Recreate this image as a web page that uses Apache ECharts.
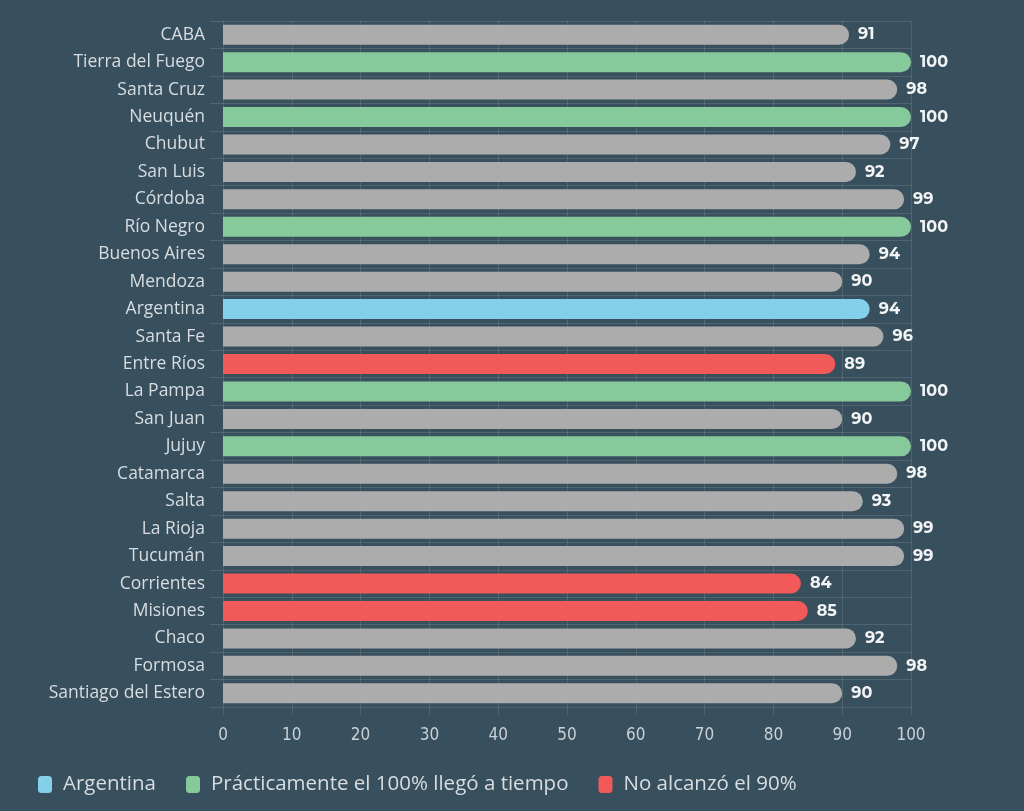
<!DOCTYPE html>
<html>
<head>
<meta charset="utf-8">
<script src="https://cdn.jsdelivr.net/npm/echarts@6/dist/echarts.min.js"></script>
<style>
  html, body { margin: 0; padding: 0; background: #384f5d; }
  #chart { width: 1024px; height: 811px; }
</style>
</head>
<body>
<div id="chart"></div>
<script>
var provincias = ['CABA', 'Tierra del Fuego', 'Santa Cruz', 'Neuquén', 'Chubut', 'San Luis', 'Córdoba',
  'Río Negro', 'Buenos Aires', 'Mendoza', 'Argentina', 'Santa Fe', 'Entre Ríos', 'La Pampa', 'San Juan',
  'Jujuy', 'Catamarca', 'Salta', 'La Rioja', 'Tucumán', 'Corrientes', 'Misiones', 'Chaco', 'Formosa',
  'Santiago del Estero'];
var valores = [91, 100, 98, 100, 97, 92, 99, 100, 94, 90, 94, 96, 89, 100, 90, 100, 98, 93, 99, 99, 84, 85, 92, 98, 90];
// grupo de cada provincia: 0 = resto, 1 = Argentina, 2 = 100%, 3 = no alcanzó el 90%
var grupos = [0, 2, 0, 2, 0, 0, 0, 2, 0, 0, 1, 0, 3, 2, 0, 2, 0, 0, 0, 0, 3, 3, 0, 0, 0];
var xTicks = [0, 10, 20, 30, 40, 50, 60, 70, 80, 90, 100];

var nombres = ['Resto', 'Argentina', 'Prácticamente el 100% llegó a tiempo', 'No alcanzó el 90%'];
var colores = ['#acacac', '#84cfea', '#86c99a', '#f25a5a'];

var chart = echarts.init(document.getElementById('chart'));

var series = nombres.map(function (nombre, g) {
  return {
    name: nombre,
    type: 'bar',
    stack: 'total',
    barWidth: 20,
    itemStyle: {
      color: colores[g],
      borderRadius: [0, 10, 10, 0]
    },
    label: {
      show: true,
      position: 'right',
      distance: 9,
      color: '#f2f4f5',
      fontFamily: 'Montserrat, Lato, sans-serif',
      fontWeight: 'bold',
      fontSize: 16
    },
    data: valores.map(function (v, i) {
      return grupos[i] === g ? v : '-';
    })
  };
});

var option = {
  backgroundColor: '#384f5d',
  animation: false,
  textStyle: { fontFamily: 'Open Sans, sans-serif' },
  grid: {
    left: 223,
    right: 113,
    top: 21,
    bottom: 104
  },
  legend: {
    data: nombres.slice(1),
    left: 33,
    bottom: 11,
    icon: 'roundRect',
    itemWidth: 14,
    itemHeight: 17,
    itemGap: 30,
    textStyle: {
      color: '#d7dde1',
      fontSize: 20.5,
      padding: [0, 0, 0, 6],
      fontFamily: 'Open Sans, sans-serif'
    }
  },
  xAxis: {
    type: 'value',
    min: 0,
    max: xTicks[xTicks.length - 1],
    interval: 10,
    axisLine: { show: false },
    axisTick: {
      show: true,
      length: 8,
      lineStyle: { color: 'rgba(255,255,255,0.12)' }
    },
    splitLine: {
      show: true,
      lineStyle: { color: 'rgba(255,255,255,0.12)', width: 1 }
    },
    axisLabel: {
      color: '#c9d1d6',
      fontSize: 17,
      margin: 20,
      fontFamily: 'Liberation Sans Narrow, DejaVu Sans Condensed, sans-serif'
    }
  },
  yAxis: {
    type: 'category',
    inverse: true,
    data: provincias,
    axisLine: { show: false },
    axisTick: {
      show: true,
      length: 13,
      lineStyle: { color: 'rgba(255,255,255,0.12)' }
    },
    splitLine: {
      show: true,
      lineStyle: { color: 'rgba(255,255,255,0.12)', width: 1 }
    },
    axisLabel: {
      color: '#d7dde1',
      fontSize: 17.5,
      margin: 18,
      fontFamily: 'Open Sans, sans-serif'
    }
  },
  series: series
};

chart.setOption(option);
</script>
</body>
</html>
